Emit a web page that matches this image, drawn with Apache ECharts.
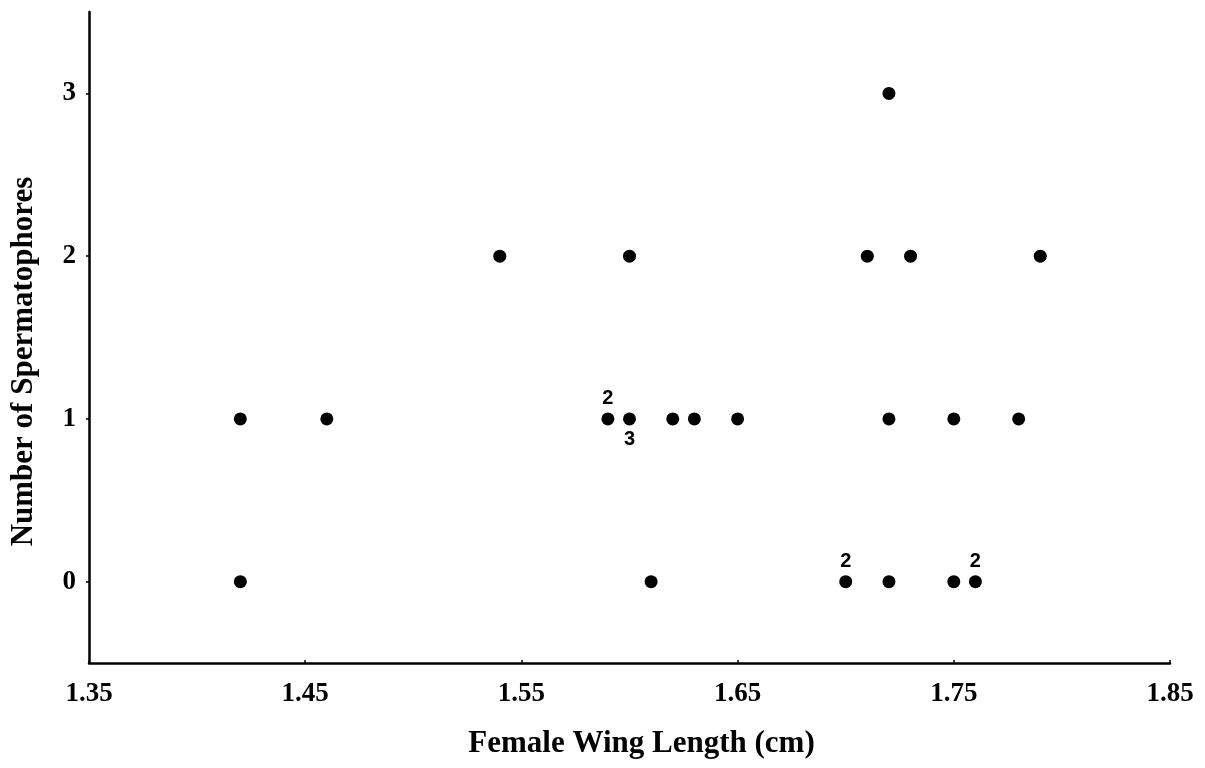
<!DOCTYPE html>
<html>
<head>
<meta charset="utf-8">
<script src="https://cdn.jsdelivr.net/npm/echarts@6/dist/echarts.min.js"></script>
<style>
html,body{margin:0;padding:0;background:#fff;}
#chart{width:1205px;height:768px;}
</style>
</head>
<body>
<div id="chart"></div>
<script>
// Data
const wingLength     = [1.42, 1.42, 1.46, 1.54, 1.60, 1.59, 1.60, 1.62, 1.63, 1.65, 1.61, 1.70, 1.72, 1.75, 1.76, 1.72, 1.71, 1.73, 1.79, 1.72, 1.75, 1.78];
const spermatophores = [1,    0,    1,    2,    2,    1,    1,    1,    1,    1,    0,    0,    0,    0,    0,    3,    2,    2,    2,    1,    1,    1];
const multiplicity   = ['',   '',   '',   '',   '',   '2',  '3',  '',   '',   '',   '',   '2',  '',   '',   '2',  '',   '',   '',   '',   '',   '',   ''];
const xTicks = [1.35, 1.45, 1.55, 1.65, 1.75, 1.85];
const yTicks = [0, 1, 2, 3];
const xTitle = 'Female Wing Length (cm)';
const yTitle = 'Number of Spermatophores';

const labelBelowIdx = new Set([6]);
const points = wingLength.map((x, i) => {
  const item = { value: [x, spermatophores[i]] };
  if (multiplicity[i]) {
    item.label = {
      show: true,
      formatter: multiplicity[i],
      position: labelBelowIdx.has(i) ? 'bottom' : 'top',
      distance: 4
    };
  }
  return item;
});

const serif = '"Liberation Serif", "Times New Roman", serif';
const chart = echarts.init(document.getElementById('chart'));
chart.setOption({
  backgroundColor: '#fff',
  animation: false,
  grid: { left: 89, right: 35, top: 12, bottom: 105, containLabel: false, outerBoundsMode: 'none' },
  xAxis: {
    type: 'value',
    min: 1.35, max: 1.85,
    name: xTitle,
    nameLocation: 'middle',
    nameGap: 65,
    nameMoveOverlap: false,
    nameTextStyle: { fontFamily: serif, fontSize: 31, fontWeight: 'bold', color: '#000', padding: [0, 0, 0, 24] },
    axisLine: { show: true, onZero: false, lineStyle: { color: '#000', width: 2.5 } },
    axisTick: { show: true, inside: true, length: 3, customValues: xTicks, lineStyle: { color: '#000', width: 1.5 } },
    axisLabel: {
      customValues: xTicks,
      formatter: v => v.toFixed(2),
      margin: 18,
      fontFamily: serif, fontSize: 27, fontWeight: 'bold', color: '#000'
    },
    splitLine: { show: false }
  },
  yAxis: {
    type: 'value',
    min: -0.5, max: 3.5,
    name: yTitle,
    nameLocation: 'middle',
    nameGap: 50,
    nameRotate: 90,
    nameMoveOverlap: false,
    nameTextStyle: { fontFamily: serif, fontSize: 31, fontWeight: 'bold', color: '#000', padding: [0, 48, 0, 0] },
    axisLine: { show: true, onZero: false, lineStyle: { color: '#000', width: 2.5 } },
    axisTick: { show: true, length: 3, customValues: yTicks, lineStyle: { color: '#000', width: 1.5 } },
    axisLabel: {
      customValues: yTicks,
      margin: 13,
      fontFamily: serif, fontSize: 27, fontWeight: 'bold', color: '#000'
    },
    splitLine: { show: false }
  },
  series: [{
    type: 'scatter',
    data: points,
    symbol: 'circle',
    symbolSize: 13,
    itemStyle: { color: '#000', opacity: 1 },
    label: {
      show: false,
      color: '#000',
      fontFamily: '"Liberation Sans", Arial, sans-serif',
      fontSize: 20,
      fontWeight: 'bold'
    },
    emphasis: { disabled: true }
  }]
});
</script>
</body>
</html>
